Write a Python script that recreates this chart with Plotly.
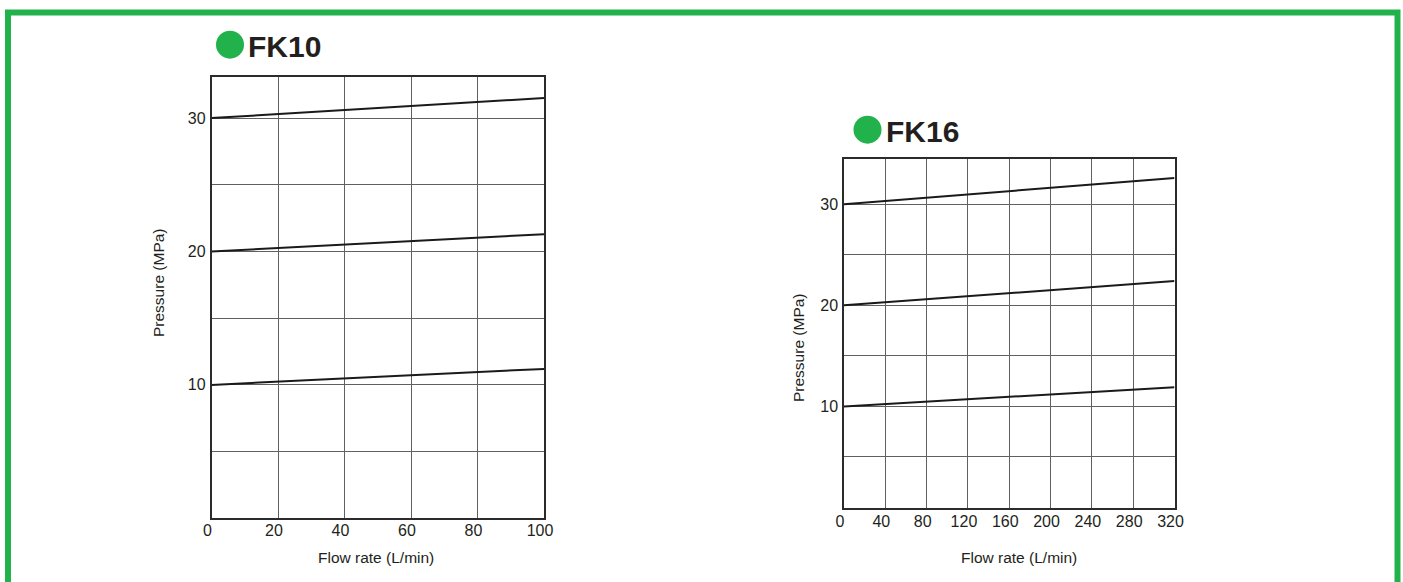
import plotly.graph_objects as go

W, H = 1403, 582

# ---- data ----
fk10_flow = [0, 100]
fk10_p30 = [30, 31.5]
fk10_p20 = [20, 21.3]
fk10_p10 = [10, 11.2]

fk16_flow = [0, 320]
fk16_p30 = [30, 32.6]
fk16_p20 = [20, 22.4]
fk16_p10 = [10, 11.9]

fk10_xticks = [0, 20, 40, 60, 80, 100]
fk16_xticks = [0, 40, 80, 120, 160, 200, 240, 280, 320]
y_gridvals = [5, 10, 15, 20, 25, 30]
y_ticktext = ["", "10", "", "20", "", "30"]

titles = ["FK10", "FK16"]
x_title = "Flow rate (L/min)"
y_title = "Pressure (MPa)"

FONT = "Liberation Sans, Arial, sans-serif"
TXT = "#231f20"
GREEN = "#22b24c"
GRID = "#5f6063"
LINE = "#2b2b2b"


def px_x(p):
    return p / W


def px_y(p):
    return (H - p) / H


fig = go.Figure()

for series in (fk10_p30, fk10_p20, fk10_p10):
    fig.add_trace(go.Scatter(x=fk10_flow, y=series, mode="lines",
                             line=dict(color="#1a1a1a", width=2),
                             xaxis="x", yaxis="y", showlegend=False, hoverinfo="skip"))
for series in (fk16_p30, fk16_p20, fk16_p10):
    fig.add_trace(go.Scatter(x=fk16_flow, y=series, mode="lines",
                             line=dict(color="#1a1a1a", width=2),
                             xaxis="x2", yaxis="y2", showlegend=False, hoverinfo="skip"))

common_axis = dict(showline=True, linecolor=LINE, linewidth=1.5, mirror=True,
                   showgrid=True, gridcolor=GRID, gridwidth=1, zeroline=False,
                   ticks="", automargin=False,
                   tickfont=dict(family=FONT, size=16, color=TXT), fixedrange=True)

fig.update_layout(
    width=W, height=H,
    margin=dict(l=0, r=0, t=0, b=0),
    paper_bgcolor="white", plot_bgcolor="white",
    font=dict(family=FONT, color=TXT),
    xaxis=dict(domain=[px_x(211.5), px_x(544)], range=[0, 100],
               tickvals=fk10_xticks, ticklabelshift=-4, ticklabelstandoff=-3,
               anchor="y", **common_axis),
    yaxis=dict(domain=[px_y(518.3), px_y(76.7)], range=[0, 33.1],
               tickvals=y_gridvals, ticktext=y_ticktext, ticklabelstandoff=1,
               anchor="x", **common_axis),
    xaxis2=dict(domain=[px_x(844), px_x(1174.5)], range=[0, 320],
                tickvals=fk16_xticks, ticklabelshift=-4, ticklabelstandoff=-1,
                anchor="y2", **common_axis),
    yaxis2=dict(domain=[px_y(507.5), px_y(159.3)], range=[0, 34.45],
                tickvals=y_gridvals, ticktext=y_ticktext, ticklabelstandoff=1,
                anchor="x2", **common_axis),
)

annotations = []
# titles
for name, tx, ty in ((titles[0], 246, 46), (titles[1], 884, 131)):
    annotations.append(dict(text="<b>%s</b>" % name, x=px_x(tx), y=px_y(ty),
                            xref="paper", yref="paper", xanchor="left", yanchor="middle",
                            showarrow=False, font=dict(family=FONT, size=30, color=TXT)))
# axis titles
for cx, cy in ((376, 557), (1019, 557)):
    annotations.append(dict(text=x_title, x=px_x(cx), y=px_y(cy), xref="paper", yref="paper",
                            xanchor="center", yanchor="middle", showarrow=False,
                            font=dict(family=FONT, size=15.5, color=TXT)))
for cx, cy in ((158, 283), (798, 348)):
    annotations.append(dict(text=y_title, x=px_x(cx), y=px_y(cy), xref="paper", yref="paper",
                            xanchor="center", yanchor="middle", showarrow=False, textangle=-90,
                            font=dict(family=FONT, size=15.5, color=TXT)))
fig.update_layout(annotations=annotations)

shapes = []
# green circles before titles
for cx, cy in ((230, 44.7), (867.5, 129.7)):
    shapes.append(dict(type="circle", xref="paper", yref="paper",
                       xsizemode="pixel", ysizemode="pixel",
                       xanchor=px_x(cx), yanchor=px_y(cy),
                       x0=-14, x1=14, y0=-14, y1=14,
                       fillcolor=GREEN, line=dict(width=0)))
# green frame
shapes.append(dict(type="rect", xref="paper", yref="paper",
                   x0=px_x(8), x1=px_x(1397.5), y0=px_y(600), y1=px_y(12.5),
                   line=dict(color=GREEN, width=6), fillcolor="rgba(0,0,0,0)", layer="above"))
fig.update_layout(shapes=shapes)

fig.write_html("out.html", config={"displayModeBar": False},
               post_script="document.body.style.margin='0';document.body.style.overflow='hidden';")
